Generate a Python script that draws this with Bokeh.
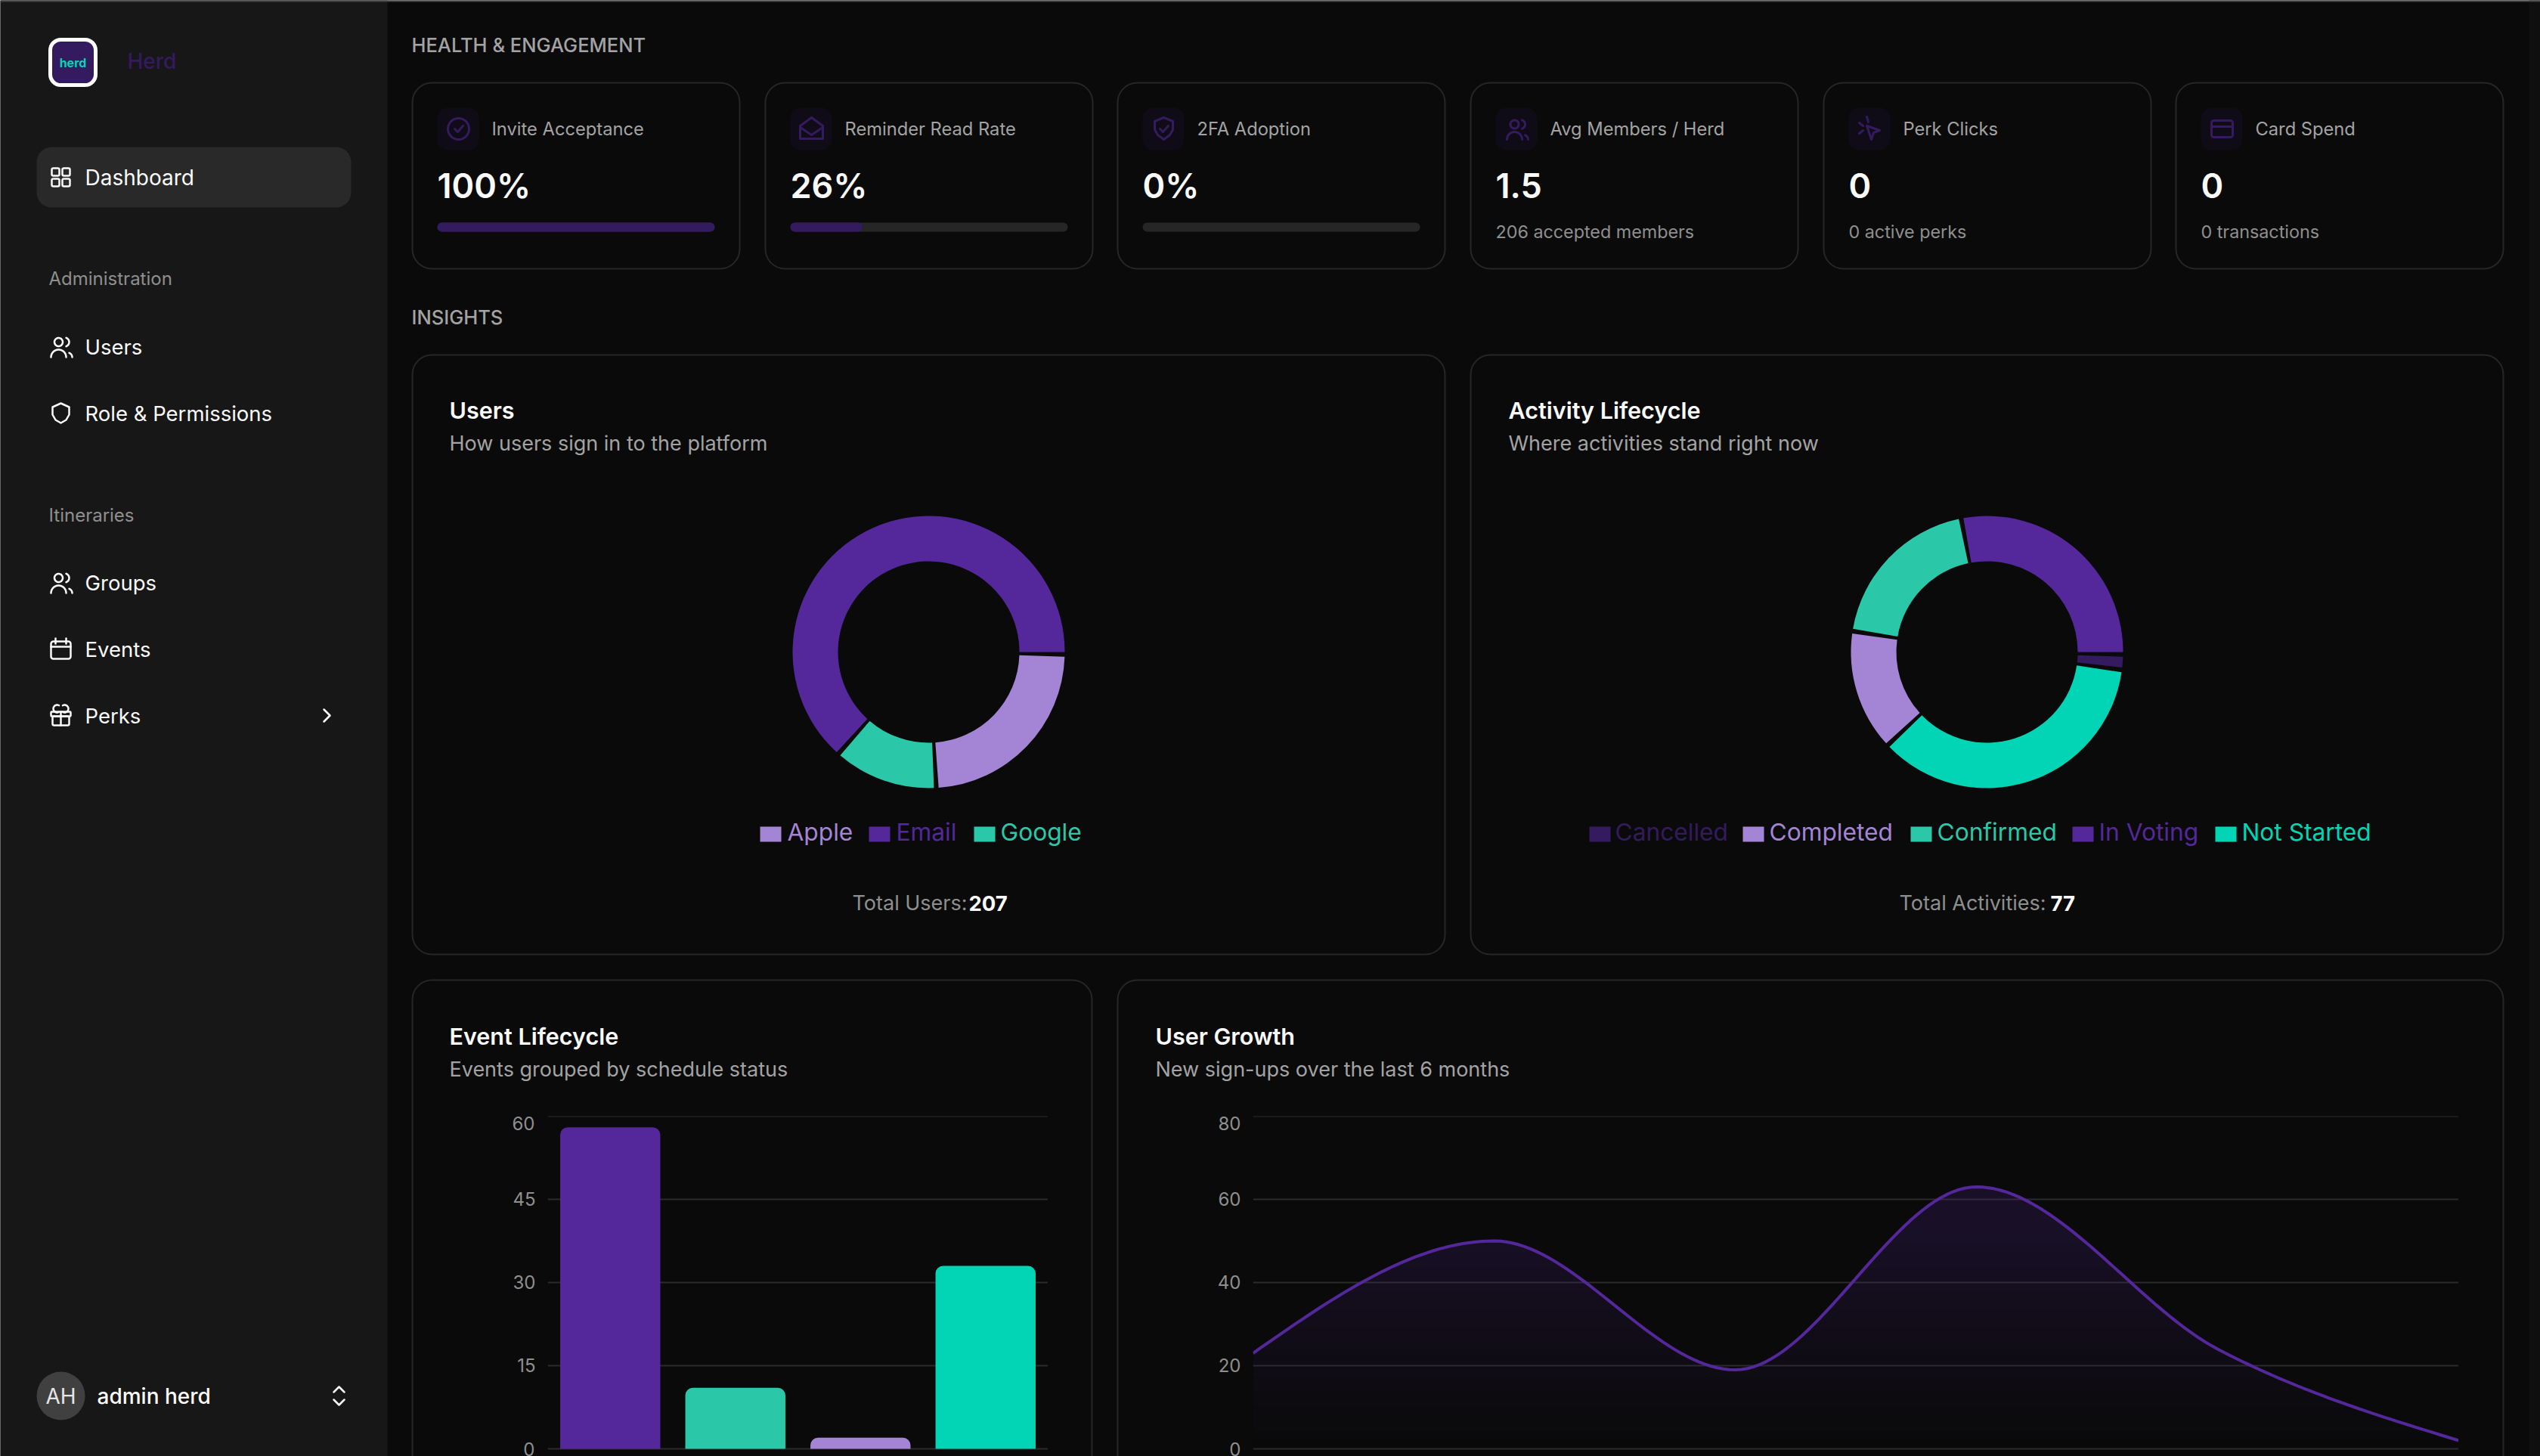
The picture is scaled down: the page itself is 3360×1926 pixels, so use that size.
import math
import numpy as np
from bokeh.core.properties import value
from bokeh.embed import file_html
from bokeh.resources import INLINE
from bokeh.models import FactorRange, FixedTicker, Range1d
from bokeh.plotting import figure

# ---------- data ----------
users_sources = ["Apple", "Google", "Email"]
users_counts = [49, 25, 133]
users_legend = ["Apple", "Email", "Google"]

activity_states = ["Cancelled", "Not Started", "Completed", "Confirmed", "In Voting"]
activity_counts = [1, 28, 11, 15, 22]
activity_legend = ["Cancelled", "Completed", "Confirmed", "In Voting", "Not Started"]

event_groups = ["Group 1", "Group 2", "Group 3", "Group 4"]
event_counts = [58, 11, 2, 33]
event_ticks = [0, 15, 30, 45, 60]

growth_months = [0, 1, 2, 3, 4, 5]
growth_signups = [23, 50, 19, 63, 24, 2]
growth_ticks = [0, 20, 40, 60, 80]

stat_titles = ["Invite Acceptance", "Reminder Read Rate", "2FA Adoption", "Avg Members / Herd", "Perk Clicks", "Card Spend"]
stat_values = ["100%", "26%", "0%", "1.5", "0", "0"]
stat_progress = [100, 26, 0, None, None, None]
stat_notes = ["", "", "", "206 accepted members", "0 active perks", "0 transactions"]

# ---------- styles ----------
PURPLE = "#54289a"; DARK = "#341a5e"; LAV = "#a485d5"; TEAL = "#2ac8a8"; AQUA = "#02d5b5"
COLORS = {"Apple": LAV, "Email": PURPLE, "Google": TEAL, "Cancelled": DARK, "Completed": LAV,
          "Confirmed": TEAL, "In Voting": PURPLE, "Not Started": AQUA}
MAIN = "#0a0a0a"; SIDE = "#171717"; BORDER = "#262626"; MUTED = "#8f8f8f"; LABEL = "#a3a3a3"; WHITE = "#fafafa"
FONT = "Inter"
MEDIUM = "'Inter Medium', Inter"
SEMI = "'Inter SemiBold', Inter"
W, H = 3360, 1926

bg = figure(width=W, height=H, x_range=Range1d(0, W), y_range=Range1d(H, 0), output_backend="svg",
            toolbar_location=None, x_axis_location=None, y_axis_location=None, min_border=0, outline_line_color=None,
            background_fill_color=MAIN, border_fill_color=MAIN)
bg.grid.visible = False


def rrect(l, t, r, b, rad=0, fill=None, line=None, lw=2, target=None):
    (target or bg).quad(left=[l], right=[r], top=[t], bottom=[b], border_radius=rad,
                        fill_color=fill, fill_alpha=1 if fill else 0,
                        line_color=line, line_alpha=1 if line else 0, line_width=lw)


def text(x, y, s, size=24, color=WHITE, weight="normal", align="left", font=FONT):
    bg.text(x=[x], y=[y], text=[s], text_font=value(font), text_font_size=f"{size}px", text_color=color,
            text_font_style=weight, text_align=align, text_baseline="middle")


def stroke(pts, color, lw=2.5):
    bg.line(x=[p[0] for p in pts], y=[p[1] for p in pts], line_color=color, line_width=lw,
            line_cap="round", line_join="round")


def arc(cx, cy, r, a0, a1, n=24):
    return [(cx + r * math.cos(math.radians(a)), cy + r * math.sin(math.radians(a)))
            for a in np.linspace(a0, a1, n)]


def ring(cx, cy, r, color, lw=2.5):
    stroke(arc(cx, cy, r, 0, 360, 48), color, lw)


def ic_users(cx, cy, c, lw=2.5):
    ring(cx - 3, cy - 6, 5.5, c, lw)
    stroke(arc(cx - 3, cy + 14, 10, 180, 360), c, lw)
    stroke(arc(cx + 5, cy - 6, 6, -70, 70, 10), c, lw)
    stroke(arc(cx + 9, cy + 14, 6, 290, 360, 8), c, lw)


def ic_grid(cx, cy, c):
    for dx in (-7, 7):
        for dy in (-7, 7):
            rrect(cx + dx - 5, cy + dy - 5, cx + dx + 5, cy + dy + 5, 2, None, c, 2.5)


def ic_shield(cx, cy, c):
    stroke([(cx, cy - 13), (cx + 11, cy - 8), (cx + 11, cy + 2), (cx + 7, cy + 9), (cx, cy + 13),
            (cx - 7, cy + 9), (cx - 11, cy + 2), (cx - 11, cy - 8), (cx, cy - 13)], c)


def ic_calendar(cx, cy, c):
    rrect(cx - 13, cy - 10, cx + 13, cy + 13, 3, None, c, 2.5)
    stroke([(cx - 13, cy - 3), (cx + 13, cy - 3)], c)
    stroke([(cx - 7, cy - 14), (cx - 7, cy - 7)], c)
    stroke([(cx + 7, cy - 14), (cx + 7, cy - 7)], c)


def ic_gift(cx, cy, c):
    rrect(cx - 13, cy - 5, cx + 13, cy + 1, 1, None, c, 2.5)
    rrect(cx - 11, cy + 1, cx + 11, cy + 13, 2, None, c, 2.5)
    stroke([(cx, cy - 5), (cx, cy + 13)], c)
    stroke(arc(cx - 5, cy - 9, 5, 60, 300, 14), c)
    stroke(arc(cx + 5, cy - 9, 5, -120, 120, 14), c)


# ---------- sidebar ----------
rrect(0, 0, 512, H, 0, SIDE)
rrect(3345, 0, W, H, 0, "#0f0f0f")
rrect(0, 0, W, 2, 0, "#444444")
rrect(66, 52, 126, 112, 14, DARK, "#ffffff", 5)
text(96, 82, "herd", 16, AQUA, "bold", "center")
text(168, 80, "Herd", 28, DARK, font=MEDIUM)
rrect(48, 194, 464, 274, 20, "#292929")
ic_grid(80, 234, WHITE)
text(112, 234, "Dashboard", 28)
text(64, 368, "Administration", 24, MUTED)
ic_users(80, 458, WHITE)
text(112, 458, "Users", 27.5)
ic_shield(80, 546, WHITE)
text(112, 546, "Role & Permissions", 27.5)
text(64, 681, "Itineraries", 24, MUTED)
ic_users(80, 770, WHITE)
text(112, 770, "Groups", 27.5)
ic_calendar(80, 858, WHITE)
text(112, 858, "Events", 27.5)
ic_gift(80, 946, WHITE)
text(112, 946, "Perks", 27.5)
stroke([(428, 938), (436, 946), (428, 954)], WHITE)
bg.circle(x=[80], y=[1846], radius=32, fill_color="#404040", line_color=None)
text(80, 1846, "AH", 28, "#e5e5e5", "normal", "center")
text(128, 1846, "admin herd", 28, WHITE, font=MEDIUM)
stroke([(441, 1841), (448, 1834), (455, 1841)], WHITE)
stroke([(441, 1851), (448, 1858), (455, 1851)], WHITE)

# ---------- headings and stat cards ----------
text(544, 59, "HEALTH & ENGAGEMENT", 25.5, "#a3a3a3", font=MEDIUM)
text(544, 419, "INSIGHTS", 25.5, "#a3a3a3", font=MEDIUM)

CARD_X = [545, 1012, 1478, 1945, 2412, 2878]
for i, x in enumerate(CARD_X):
    rrect(x, 109, x + 433, 355, 26, None, BORDER, 2)
    rrect(x + 33, 142, x + 88, 198, 14, "#100c17")
    cx, cy = x + 61, 170
    if i == 0:
        ring(cx, cy, 14, DARK, 3)
        stroke([(cx - 5, cy), (cx - 1, cy + 4), (cx + 6, cy - 4)], DARK, 3)
    elif i == 1:
        stroke([(cx - 15, cy - 4), (cx, cy - 15), (cx + 15, cy - 4), (cx + 15, cy + 13), (cx - 15, cy + 13),
                (cx - 15, cy - 4)], DARK, 3)
        stroke([(cx - 15, cy - 2), (cx, cy + 8), (cx + 15, cy - 2)], DARK, 3)
    elif i == 2:
        stroke([(cx, cy - 15), (cx + 12, cy - 10), (cx + 12, cy + 1), (cx + 8, cy + 8), (cx, cy + 14),
                (cx - 8, cy + 8), (cx - 12, cy + 1), (cx - 12, cy - 10), (cx, cy - 15)], DARK, 3)
        stroke([(cx - 5, cy), (cx - 1, cy + 4), (cx + 6, cy - 4)], DARK, 3)
    elif i == 3:
        ic_users(cx, cy, DARK, 3)
    elif i == 4:
        stroke([(cx - 4, cy - 4), (cx + 13, cy + 2), (cx + 5, cy + 5), (cx + 2, cy + 14), (cx - 4, cy - 4)], DARK, 3)
        stroke([(cx - 4, cy - 16), (cx - 2, cy - 9)], DARK, 3)
        stroke([(cx - 14, cy - 8), (cx - 9, cy - 4)], DARK, 3)
        stroke([(cx - 14, cy + 6), (cx - 9, cy + 2)], DARK, 3)
    else:
        rrect(cx - 14, cy - 11, cx + 14, cy + 11, 3, None, DARK, 3)
        stroke([(cx - 14, cy - 3), (cx + 14, cy - 3)], DARK, 3)
    text(x + 105, 170, stat_titles[i], 23.7, LABEL)
    text(x + 33, 245, stat_values[i], 45, WHITE, "normal", font=SEMI)
    if stat_progress[i] is not None:
        rrect(x + 33, 294, x + 400, 306, 6, BORDER)
        if stat_progress[i] > 0:
            rrect(x + 33, 294, x + 33 + 367 * stat_progress[i] / 100, 306, 6, DARK)
    else:
        text(x + 33, 306, stat_notes[i], 23.3, MUTED)

# ---------- chart cards ----------
rrect(545, 469, 1911, 1262, 26, None, BORDER, 2)
rrect(1945, 469, 3311, 1262, 26, None, BORDER, 2)
rrect(545, 1296, 1444, 2000, 26, None, BORDER, 2)
rrect(1478, 1296, 3311, 2000, 26, None, BORDER, 2)
text(594, 542, "Users", 30.5, WHITE, "normal", font=SEMI)
text(594, 586, "How users sign in to the platform", 27, LABEL)
text(1995, 542, "Activity Lifecycle", 30.5, WHITE, "normal", font=SEMI)
text(1995, 586, "Where activities stand right now", 27, LABEL)
text(594, 1370, "Event Lifecycle", 30.5, WHITE, "normal", font=SEMI)
text(594, 1414, "Events grouped by schedule status", 27, LABEL)
text(1528, 1370, "User Growth", 30.5, WHITE, "normal", font=SEMI)
text(1528, 1414, "New sign-ups over the last 6 months", 27, LABEL)


def legend(names, swatches, texts):
    for n, sx, tx in zip(names, swatches, texts):
        rrect(sx, 1093, sx + 28, 1113, 0, COLORS[n])
        text(tx, 1100, n, 31.7, COLORS[n])


legend(users_legend, [1005, 1149, 1288], [1041, 1185, 1323])
legend(activity_legend, [2102, 2305, 2527, 2741, 2930], [2136, 2340, 2562, 2776, 2965])
text(1127, 1194, "Total Users:", 27, MUTED)
text(1281, 1194, str(sum(users_counts)), 27.5, WHITE, "bold")
text(2512, 1194, "Total Activities:", 27, MUTED)
text(2712, 1194, str(sum(activity_counts)), 27.5, WHITE, "bold")

# end tick labels that the reference nudges inside the plot area
for tx, ticks in ((707, event_ticks), (1641, growth_ticks)):
    text(tx, 1485, str(max(ticks)), 24, MUTED, "normal", "right")
    text(tx, 1916, str(min(ticks)), 24, MUTED, "normal", "right")


# ---------- donuts ----------
def place(fig, left, top):
    fig.styles = {"position": "absolute", "left": f"{left}px", "top": f"{top}px"}
    return fig


def donut(names, counts, cx, cy, pad=2.0):
    f = figure(width=400, height=400, x_range=Range1d(-200, 200), y_range=Range1d(-200, 200), output_backend="svg",
               toolbar_location=None, x_axis_location=None, y_axis_location=None, min_border=0, outline_line_color=None,
               background_fill_color=None, border_fill_color=None)
    f.grid.visible = False
    unit = (360 - pad * len(counts)) / sum(counts)
    a = pad
    starts, ends = [], []
    for v in counts:
        starts.append(-math.radians(a))
        ends.append(-math.radians(a + v * unit))
        a += v * unit + pad
    f.annular_wedge(x=0, y=0, inner_radius=120, outer_radius=180, start_angle=starts, end_angle=ends,
                    direction="clock", fill_color=[COLORS[n] for n in names], line_color=None)
    return place(f, cx - 200, cy - 200)


users_fig = donut(users_sources, users_counts, 1228, 862)
activity_fig = donut(activity_states, activity_counts, 2628, 862)

# ---------- charts ----------
PX_PER = 440.0


def style_axis(f, ticks):
    f.yaxis.ticker = FixedTicker(ticks=ticks)
    f.ygrid.ticker = FixedTicker(ticks=ticks)
    f.xgrid.visible = False
    f.ygrid.grid_line_color = "#2b2b2b"
    f.ygrid.grid_line_width = 2
    f.yaxis.axis_line_color = None
    f.yaxis.major_tick_line_color = None
    f.yaxis.minor_tick_line_color = None
    f.yaxis.major_label_standoff = 10
    f.yaxis.major_label_text_color = MUTED
    f.yaxis.major_label_text_font = FONT
    f.yaxis.major_label_text_font_size = "24px"
    f.yaxis.major_label_overrides = {max(ticks): " ", min(ticks): " "}


bar_fig = figure(width=60 + 662, height=16 + 450, x_range=FactorRange(factors=event_groups),
                 y_range=Range1d(-10 * max(event_ticks) / PX_PER, max(event_ticks) + 0.001), output_backend="svg",
                 toolbar_location=None, x_axis_location=None, min_border_left=60, min_border_top=16, min_border_right=0,
                 min_border_bottom=0, outline_line_color=None, background_fill_color=None, border_fill_color=None)
bar_fig.vbar(x=event_groups, top=event_counts, width=0.8, border_radius=(10, 10, 0, 0),
             fill_color=[PURPLE, TEAL, LAV, AQUA], line_color=None)
style_axis(bar_fig, event_ticks)
place(bar_fig, 664, 1460)


def monotone_x(xs, ys, per=40):
    """d3 curveMonotoneX through the data points, so the line bends like the reference."""
    xs, ys = np.asarray(xs, float), np.asarray(ys, float)
    h = np.diff(xs); s = np.diff(ys) / h
    t = np.zeros(len(xs))
    for i in range(1, len(xs) - 1):
        p_ = (s[i - 1] * h[i] + s[i] * h[i - 1]) / (h[i - 1] + h[i])
        t[i] = (np.sign(s[i - 1]) + np.sign(s[i])) * min(abs(s[i - 1]), abs(s[i]), 0.5 * abs(p_))
    t[0] = (3 * s[0] - t[1]) / 2
    t[-1] = (3 * s[-1] - t[-2]) / 2
    out_x, out_y = [], []
    for i in range(len(h)):
        u = np.linspace(0, 1, per, endpoint=i == len(h) - 1)
        x0, x1 = xs[i], xs[i + 1]
        y0, y1 = ys[i], ys[i + 1]
        c1, c2 = y0 + h[i] * t[i] / 3, y1 - h[i] * t[i + 1] / 3
        out_x.extend(x0 + u * h[i])
        out_y.extend((1 - u) ** 3 * y0 + 3 * (1 - u) ** 2 * u * c1 + 3 * (1 - u) * u ** 2 * c2 + u ** 3 * y1)
    return np.array(out_x), np.array(out_y)


line_fig = figure(width=60 + 1595, height=16 + 450, x_range=Range1d(growth_months[0], growth_months[-1]),
                  y_range=Range1d(-10 * max(growth_ticks) / PX_PER, max(growth_ticks) + 0.001), output_backend="svg",
                  toolbar_location=None, x_axis_location=None, min_border_left=60, min_border_top=16, min_border_right=0,
                  min_border_bottom=0, outline_line_color=None, background_fill_color=None, border_fill_color=None)
cx_, cy_ = monotone_x(growth_months, growth_signups)
peak = max(growth_signups)
BANDS = 32
for k in range(BANDS):
    lo, hi = peak * k / BANDS, peak * (k + 1) / BANDS
    alpha = 0.2 * min(1.0, (k + 0.5) / BANDS / 0.85)
    line_fig.varea(x=cx_, y1=np.minimum(cy_, lo), y2=np.minimum(cy_, hi), fill_color=PURPLE, fill_alpha=alpha)
line_fig.line(x=cx_, y=cy_, line_color=PURPLE, line_width=4)
style_axis(line_fig, growth_ticks)
place(line_fig, 1597, 1460)

place(bg, 0, 0)
p = [bg, users_fig, activity_fig, bar_fig, line_fig]

open("out.html", "w").write(file_html(p, INLINE))
